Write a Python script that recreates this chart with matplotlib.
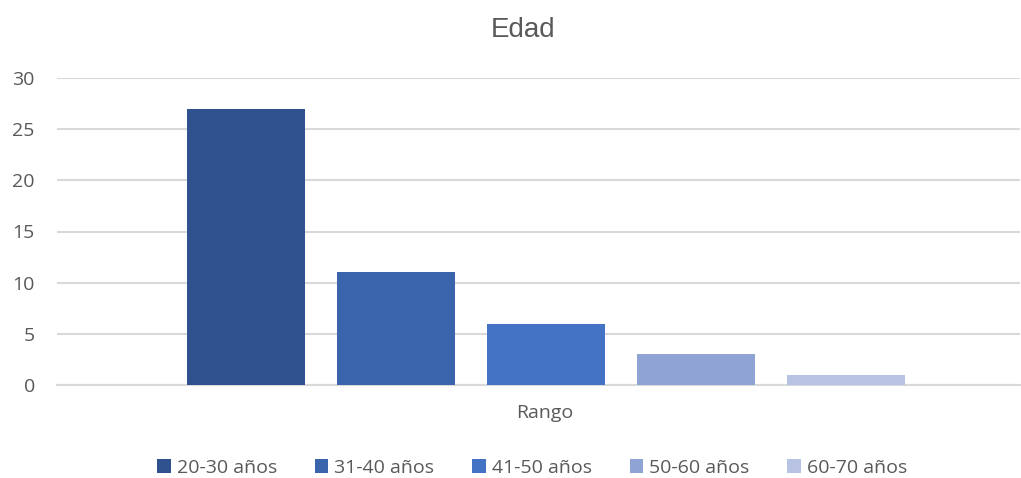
import matplotlib

matplotlib.use("Agg")
import matplotlib.pyplot as plt

series = ["20-30 años", "31-40 años", "41-50 años", "50-60 años", "60-70 años"]
values = [27, 11, 6, 3, 1]
colors = ["#2F528F", "#3A64AB", "#4472C4", "#8FA4D4", "#B8C3E4"]
category = "Rango"
yticks = [0, 5, 10, 15, 20, 25, 30]

fig = plt.figure(figsize=(10.21, 4.78), dpi=100)
ax = fig.add_axes([57 / 1021, 1 - 385 / 478, (1020 - 57) / 1021, (385 - 78) / 478])

for i, (name, v, c) in enumerate(zip(series, values, colors)):
    ax.bar(i, v, width=118 / 150, color=c, label=name, zorder=3)

ax.set_xlim(-1.26, 5.16)
ax.set_ylim(0, 30)
ax.set_yticks(yticks)
ax.grid(axis="y", color="#D9D9D9", linewidth=1.5, zorder=0)
ax.set_xticks([])
ax.set_xlabel(category, fontsize=14, color="#595959", fontfamily="Open Sans")
ax.xaxis.set_label_coords((545 - 57) / (1020 - 57), -19 / 307)
for s in ["left", "right", "top"]:
    ax.spines[s].set_visible(False)
ax.spines["bottom"].set_color("#D9D9D9")
ax.spines["bottom"].set_linewidth(1.5)
ax.tick_params(axis="y", length=0, labelsize=14, labelcolor="#595959", pad=16)
for lbl in ax.get_yticklabels():
    lbl.set_fontfamily("Open Sans")

fig.text(523 / 1021, 1 - 30 / 478, "Edad", ha="center", va="center", fontsize=20,
         color="#595959", fontfamily="Liberation Sans")

fig.legend(loc="center", bbox_to_anchor=(532 / 1021, 1 - 468 / 478), ncol=5, frameon=False,
           prop={"family": "Open Sans", "size": 14}, handlelength=0.7, handleheight=0.7,
           handletextpad=0.3, columnspacing=1.95, labelcolor="#595959")

fig.savefig("out.png", dpi=100)
